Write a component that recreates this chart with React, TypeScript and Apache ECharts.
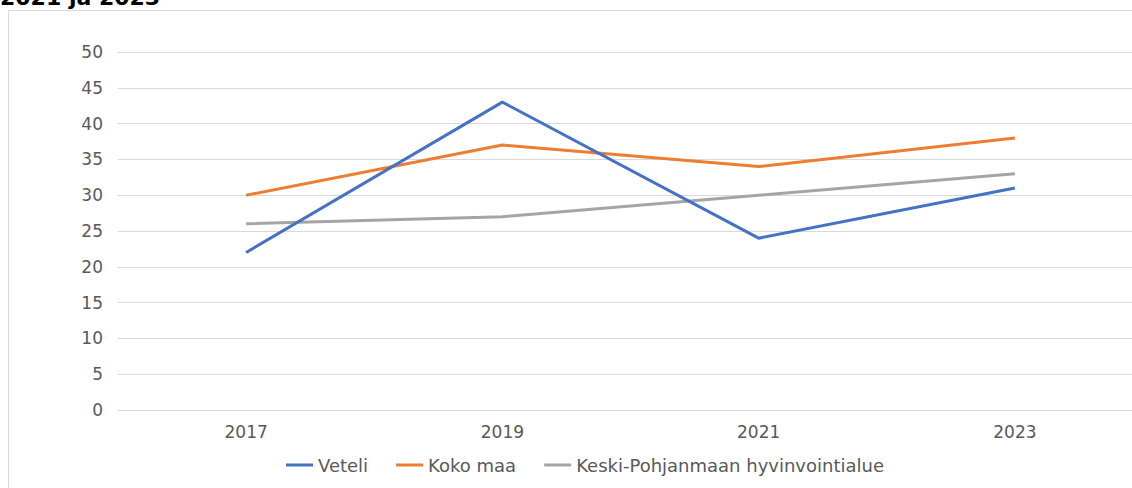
import React, { useEffect, useRef } from "react";
import * as echarts from "echarts";

const categories = ["2017", "2019", "2021", "2023"];
const veteli = [22, 43, 24, 31];
const kokoMaa = [30, 37, 34, 38];
const keskiPohjanmaa = [26, 27, 30, 33];
const seriesNames = ["Veteli", "Koko maa", "Keski-Pohjanmaan hyvinvointialue"];
const seriesColors = ["#4472C4", "#ED7D31", "#A5A5A5"];
const titleText = "2021 ja 2023";

const FONT = "'DejaVu Sans', Verdana, sans-serif";

export default function App() {
  const ref = useRef<HTMLDivElement>(null);
  useEffect(() => {
    if (!ref.current) return;
    const chart = echarts.init(ref.current, undefined, { renderer: "svg" });
    const data = [veteli, kokoMaa, keskiPohjanmaa];
    chart.setOption({
      animation: false,
      backgroundColor: "#ffffff",
      textStyle: { fontFamily: FONT },
      graphic: [
        {
          type: "rect",
          shape: { x: 8.5, y: 10.5, width: 1300, height: 700 },
          style: { fill: "none", stroke: "#d9d9d9", lineWidth: 1 },
          silent: true,
        },
        {
          type: "text",
          x: 0,
          y: 8,
          style: {
            text: titleText,
            fill: "#000000",
            font: `bold 22px ${FONT}`,
            verticalAlign: "bottom",
          },
        },
      ],
      grid: {
        left: 118,
        width: 1025,
        top: 52,
        bottom: 78,
        containLabel: false,
        outerBoundsMode: "none",
      },
      legend: {
        left: 286,
        top: 456,
        padding: 0,
        icon: "rect",
        itemWidth: 27,
        itemHeight: 3,
        itemGap: 28,
        textStyle: { color: "#595959", fontSize: 18, fontFamily: FONT },
        data: seriesNames,
      },
      xAxis: {
        type: "category",
        data: categories,
        boundaryGap: true,
        axisLine: { show: true, lineStyle: { color: "#d9d9d9", width: 1 } },
        axisTick: { show: false },
        axisLabel: { color: "#595959", fontSize: 17, margin: 13, fontFamily: FONT },
      },
      yAxis: {
        type: "value",
        min: 0,
        max: 50,
        interval: 5,
        axisLine: { show: false },
        axisTick: { show: false },
        axisLabel: { color: "#595959", fontSize: 17, margin: 15, fontFamily: FONT },
        splitLine: { lineStyle: { color: "#d9d9d9", width: 1 } },
      },
      series: seriesNames.map((name, i) => ({
        name,
        type: "line",
        data: data[i],
        symbol: "none",
        color: seriesColors[i],
        lineStyle: { width: 3, color: seriesColors[i] },
        z: 3 - i,
      })),
    });
    return () => chart.dispose();
  }, []);
  return (
    <div
      ref={ref}
      style={{ position: "fixed", left: 0, top: 0, width: 1132, height: 488 }}
    />
  );
}
